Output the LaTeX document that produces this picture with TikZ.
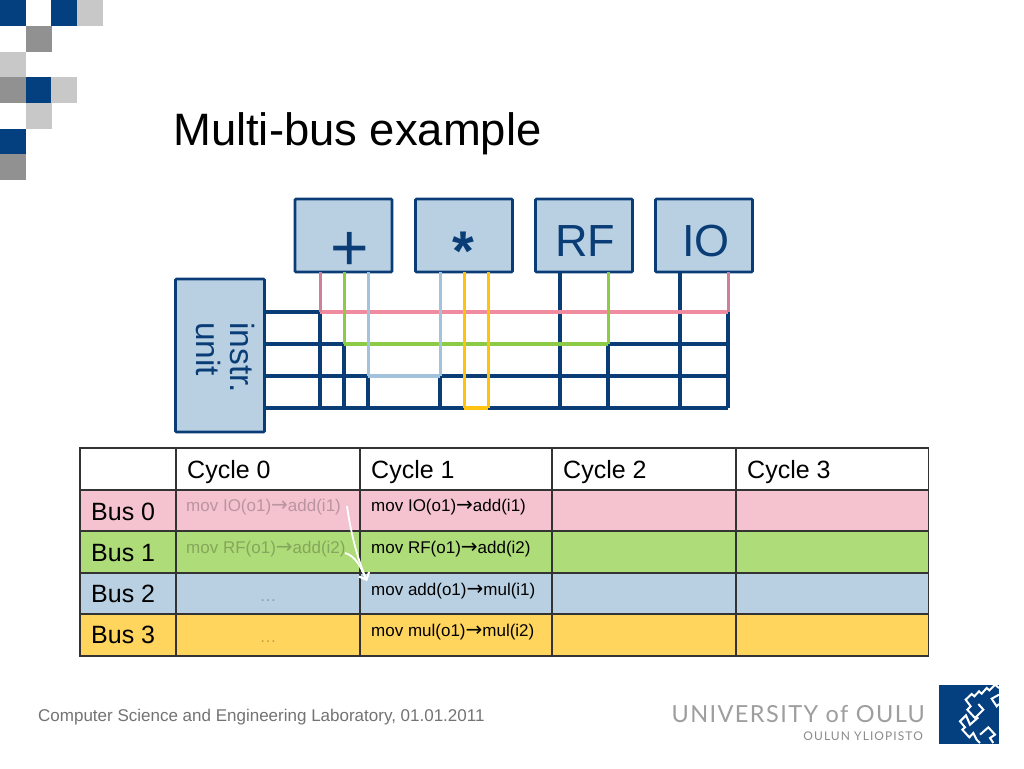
\documentclass[tikz,border=0pt]{standalone}
\usepackage{fontspec}
\setmainfont{Liberation Sans}
\newfontfamily\logofont[LetterSpace=6]{Lato}
\newfontfamily\logofontb[LetterSpace=9]{Lato}
\newfontfamily\arrowfont{DejaVu Sans}
\usetikzlibrary{arrows.meta}
\definecolor{navy}{HTML}{0A3D75}
\definecolor{sqblue}{HTML}{04407F}
\definecolor{sqgray}{HTML}{919191}
\definecolor{sqlight}{HTML}{C8C8C8}
\definecolor{boxfill}{HTML}{B9D0E3}
\definecolor{buspink}{HTML}{F08CA0}
\definecolor{busgreen}{HTML}{8CCB46}
\definecolor{busblue}{HTML}{A3C2DC}
\definecolor{busyellow}{HTML}{FFC20E}
\definecolor{rowpink}{HTML}{F5C3D0}
\definecolor{rowgreen}{HTML}{AEDC78}
\definecolor{rowblue}{HTML}{B8D0E2}
\definecolor{rowyellow}{HTML}{FFD55E}
\definecolor{gridline}{HTML}{333333}
\newcommand{\fs}[1]{\fontsize{#1}{#1}\selectfont}
\newcommand{\arrowsym}{{\arrowfont\fs{20}→}}
\tikzset{
  unitbox/.style={draw=navy,fill=boxfill,line width=2.6pt,rounded corners=1pt,inner sep=0pt,outer sep=0pt,minimum width=97pt,minimum height=73pt},
  unitlabel/.style={inner sep=0pt,anchor=base west,text=navy},
  dbus/.style={draw=navy,line width=4pt},
  dvert/.style={draw=navy,line width=3.2pt},
  cbus/.style={line width=4pt},
  cvert/.style={line width=3pt},
  tcell/.style={draw=gridline,line width=1.8pt,inner sep=0pt,outer sep=0pt,anchor=north west},
  ctext/.style={inner sep=0pt,anchor=base west,text=black},
  movtext/.style={inner sep=0pt,anchor=base west,text=black,font=\fs{17}},
  fadetext/.style={inner sep=0pt,anchor=base west,text=black!24!#1,font=\fs{17}},
  dots/.style={inner sep=0pt,anchor=base,text=black!24!#1,font=\fs{17}},
  sq/.style={inner sep=0pt,minimum size=25.7pt,anchor=north west,fill=#1},
  logoline/.style={draw=white,line width=2pt,line join=miter},
  whitearrow/.style={draw=white,line width=1.8pt,-{Straight Barb[length=6pt,width=11pt]}}
}
\begin{document}
\begin{tikzpicture}[x=1pt,y=-1pt]
\useasboundingbox[fill=white] (0,0) rectangle (1024,768);
% corner squares
\foreach \i/\cx/\cy/\cc in {a/0/0/sqblue,b/2/0/sqblue,c/1/3/sqblue,d/0/5/sqblue,e/1/1/sqgray,f/0/3/sqgray,g/0/6/sqgray,h/3/0/sqlight,k/0/2/sqlight,l/2/3/sqlight,m/1/4/sqlight}
  \node[sq=\cc] (sq\i) at ({\cx*25.6},{\cy*25.7}) {};
% title
\node[inner sep=0pt,anchor=base west,font=\fs{45.4}] (title) at (173,145) {Multi-bus example};
% units
\node[unitbox] (add) at (343.5,235.5) {};
\node[unitbox] (mul) at (464,235.5) {};
\node[unitbox] (rf) at (584,235.5) {};
\node[unitbox] (io) at (704,235.5) {};
\node[draw=navy,fill=boxfill,line width=2.6pt,rounded corners=1pt,inner sep=0pt,outer sep=0pt,minimum width=89pt,minimum height=153pt] (instr) at (220,355.5) {};
\node[unitlabel,font=\fs{66},text=navy] (addl) at (330.5,270) {+};
\node[unitlabel,font=\bfseries\fs{56}] (mull) at (452,270) {*};
\node[unitlabel,font=\fs{45}] (rfl) at (555,256) {RF};
\node[unitlabel,font=\fs{45}] (iol) at (682,256) {IO};
\node[unitlabel,font=\fs{33.5},rotate=-90] (il1) at (230.5,322) {instr.};
\node[unitlabel,font=\fs{33.5},rotate=-90] (il2) at (196,322) {unit};
% junction coordinates
\foreach \x in {320,344,368,440,464,488,560,608,680,728}{
  \coordinate (t\x) at (\x,272);
  \foreach \y in {312,344,376,408}{\coordinate (j\x-\y) at (\x,\y);}
}
\foreach \y in {312,344,376,408}{\coordinate (s\y) at (264.5,\y);}
% buses
\draw[dbus] (s312) -- (j320-312);
\draw[dbus] (s344) -- (j344-344);
\draw[dbus] (j608-344) -- (j728-344);
\draw[dbus] (s376) -- (j368-376);
\draw[dbus] (j440-376) -- (j728-376);
\draw[dbus,line cap=rect] (s408) -- (j464-408);
\draw[dbus] (j488-408) -- (j728-408);
% dark verticals
\draw[dvert] (j320-312) -- (j320-408);
\draw[dvert] (j344-344) -- (j344-408);
\draw[dvert] (j368-376) -- (j368-408);
\draw[dvert] (j440-376) -- (j440-408);
\draw[dvert] (j608-344) -- (j608-408);
\draw[dvert] (j728-312) -- (j728-408);
\draw[dvert] (t560) -- (j560-408);
\draw[dvert] (t680) -- (j680-408);
% coloured segments
\draw[cbus,draw=buspink] (j320-312) -- (j728-312);
\draw[cbus,draw=busgreen] (j344-344) -- (j608-344);
\draw[cbus,draw=busblue] (j368-376) -- (j440-376);
\draw[cbus,draw=busyellow] (j464-408) -- (j488-408);
\draw[cvert,draw=buspink!85!navy] (t320) -- (j320-312);
\draw[cvert,draw=buspink!85!navy] (t728) -- (j728-312);
\draw[cvert,draw=busgreen] (t344) -- (j344-344);
\draw[cvert,draw=busgreen] (t608) -- (j608-344);
\draw[cvert,draw=busblue] (t368) -- (j368-376);
\draw[cvert,draw=busblue] (t440) -- (j440-376);
\draw[cvert,draw=busyellow] (t464) -- (j464-408);
\draw[cvert,draw=busyellow] (t488) -- (j488-408);
% table
\foreach \rn/\ry/\rh/\rc in {0/448/42/white,1/490/41/rowpink,2/531/42/rowgreen,3/573/41/rowblue,4/614/42/rowyellow}{
  \foreach \cn/\cx/\cw in {0/80/96,1/176/184,2/360/192,3/552/184,4/736/192.5}{
    \node[tcell,fill=\rc,minimum width=\cw pt,minimum height=\rh pt] (c\rn-\cn) at (\cx,\ry) {};
  }
}
\node[ctext,font=\fs{25}] (h0) at (187,478) {Cycle 0};
\node[ctext,font=\fs{25}] (h1) at (371,478) {Cycle 1};
\node[ctext,font=\fs{25}] (h2) at (563,478) {Cycle 2};
\node[ctext,font=\fs{25}] (h3) at (747,478) {Cycle 3};
\node[ctext,font=\fs{25}] (b0) at (91,520) {Bus 0};
\node[ctext,font=\fs{25}] (b1) at (91,561) {Bus 1};
\node[ctext,font=\fs{25}] (b2) at (91,602) {Bus 2};
\node[ctext,font=\fs{25}] (b3) at (91,643) {Bus 3};
\node[fadetext=rowpink] (f0) at (186,511) {mov IO(o1)\arrowsym add(i1)};
\node[fadetext=rowgreen] (f1) at (186,553) {mov RF(o1)\arrowsym add(i2)};
\node[dots=rowblue] (f2) at (268,601) {…};
\node[dots=rowyellow] (f3) at (268,642) {…};
\node[movtext] (m0) at (371,511) {mov IO(o1)\arrowsym add(i1)};
\node[movtext] (m1) at (371,553) {mov RF(o1)\arrowsym add(i2)};
\node[movtext] (m2) at (371,595) {mov add(o1)\arrowsym mul(i1)};
\node[movtext] (m3) at (371,636) {mov mul(o1)\arrowsym mul(i2)};
% white arrows
\coordinate (w1) at (347,506);
\coordinate (w2) at (345,553);
\coordinate (w3) at (367,581);
\draw[whitearrow] (w1) .. controls (351,535) and (358,560) .. (w3);
\draw[whitearrow] (w2) .. controls (356,556) and (361,568) .. (w3);
% footer
\node[inner sep=0pt,anchor=base west,text=black!55,font=\fs{17}] (foot) at (38,721) {Computer Science and Engineering Laboratory, 01.01.2011};
\node[inner sep=0pt,anchor=base east,text=black!38,font=\logofont\fs{23.5}] (logo1) at (925,722) {UNIVERSITY of OULU};
\node[inner sep=0pt,anchor=base east,text=black!45,font=\logofontb\fs{12}] (logo2) at (923,740) {OULUN YLIOPISTO};
\node[inner sep=0pt,anchor=north west,fill=sqblue,minimum width=60pt,minimum height=59pt] (logosq) at (939,684.5) {};
\begin{scope}[shift={(930,678)},x=0.3333pt,y=-0.3333pt]
\clip (27,19) rectangle (207,195);
\draw[logoline] (207,30) -- (195,20) -- (178,37) -- (170,30) -- (155,47) -- (147,40) -- (133,55) -- (125,48) -- (107,65) -- (122,85) -- (112,95) -- (135,120) -- (160,95) -- (145,78);
\draw[logoline] (207,50) -- (185,62) -- (200,85) -- (207,78);
\draw[logoline] (145,118) -- (120,140) -- (108,112) -- (90,130) -- (105,148) -- (97,155) -- (118,178) -- (130,165) -- (140,185) -- (150,195);
\draw[logoline] (150,170) -- (175,148) -- (195,170) -- (180,180) -- (190,195);
\end{scope}
\end{tikzpicture}
\end{document}
